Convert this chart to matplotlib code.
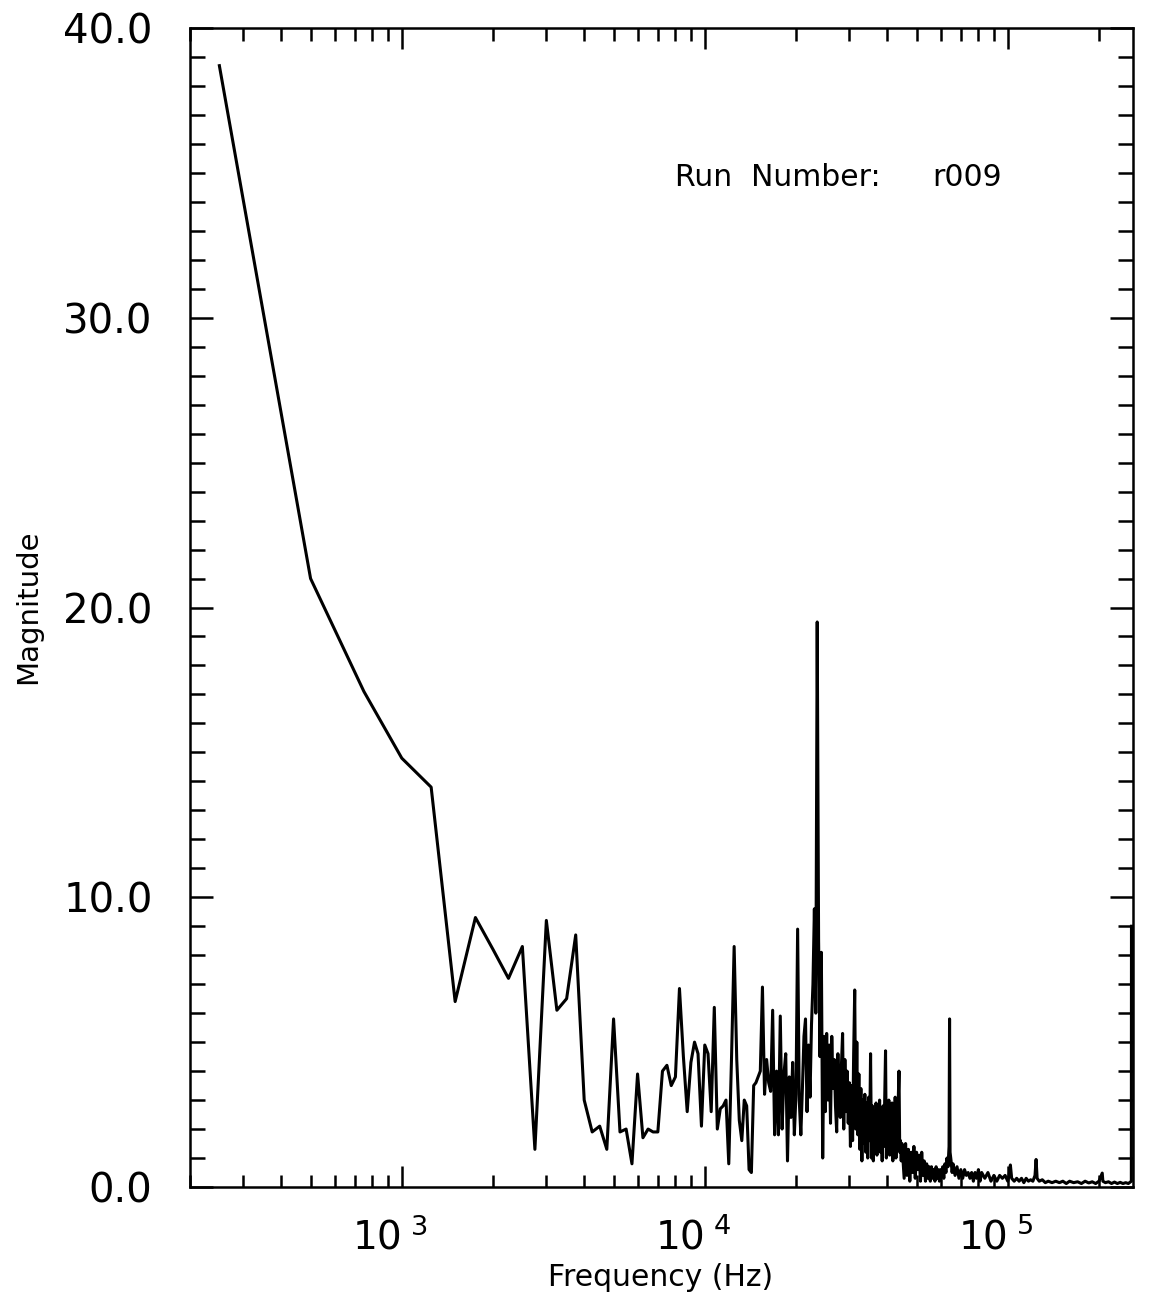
import numpy as np
import matplotlib.pyplot as plt
from matplotlib.transforms import ScaledTranslation
from matplotlib.ticker import MultipleLocator, LogLocator, NullFormatter, FormatStrFormatter

plt.rcParams['mathtext.fontset'] = 'dejavusans'

################### Spectrum values (Hz, magnitude)

# falling low-frequency part
freq_low = [250, 500, 750, 1000, 1250, 1500, 1750, 2000, 2250, 2500, 2750, 3000,
            3250, 3500, 3750, 4000, 4250, 4500, 4750, 5000, 5250, 5500, 5750, 6000,
            6250, 6500, 6750, 7000, 7250, 7500, 7750, 8000, 8250, 8500, 8750, 9000,
            9250, 9500, 9750, 10000]
mag_low = [38.7, 21.0, 17.1, 14.8, 13.8, 6.4, 9.3, 8.2, 7.2, 8.3, 1.3, 9.2,
           6.1, 6.5, 8.7, 3.0, 1.9, 2.1, 1.3, 5.8, 1.9, 2.0, 0.8, 3.9,
           1.7, 2.0, 1.9, 1.9, 4.0, 4.2, 3.5, 3.8, 6.85, 4.5, 2.6, 4.3,
           5.0, 4.6, 2.1, 4.9]

# 10 kHz - 28 kHz, noisy band with the 23.5 kHz line
freq_mid = [10250, 10500, 10750, 11000, 11250, 11500, 11750, 12000, 12250, 12500,
            12750, 13000, 13250, 13500, 13750, 14000, 14250, 14500, 14750, 15000,
            15250, 15500, 15750, 16000, 16250, 16500, 16750, 17000, 17250, 17500,
            17750, 18000, 18250, 18500, 18750, 19000, 19250, 19500, 19750, 20000,
            20250, 20500, 20750, 21000, 21250, 21500, 21750, 22000, 22250, 22500,
            22750, 23000, 23250, 23500, 23750, 24000, 24250, 24500, 24750, 25000,
            25250, 25500, 25750, 26000, 26250, 26500, 26750, 27000, 27250, 27500,
            27750]
mag_mid = [4.6, 2.6, 6.2, 2.0, 2.7, 2.8, 3.0, 0.8, 4.4, 8.3,
           4.4, 2.3, 1.6, 3.0, 2.8, 0.6, 0.5, 3.5, 3.6, 3.8,
           4.0, 6.9, 3.2, 4.4, 3.6, 3.3, 6.1, 1.8, 4.0, 1.8,
           5.9, 2.0, 3.9, 4.6, 0.9, 3.8, 2.4, 4.3, 1.8, 3.2,
           8.9, 3.0, 1.8, 3.4, 5.2, 5.8, 2.6, 4.9, 3.1, 5.6,
           7.0, 9.6, 6.0, 19.5, 8.5, 4.5, 8.1, 1.0, 5.2, 2.6,
           5.3, 3.0, 4.9, 2.2, 5.2, 3.4, 4.4, 2.8, 1.9, 4.6,
           2.9]

# 28 kHz - 45 kHz, dense block
freq_blk = [28000, 28250, 28500, 28750, 29000, 29250, 29500, 29750, 30000, 30250,
            30500, 30750, 31000, 31250, 31500, 31750, 32000, 32250, 32500, 32750,
            33000, 33250, 33500, 33750, 34000, 34250, 34500, 34750, 35000, 35250,
            35500, 35750, 36000, 36250, 36500, 36750, 37000, 37250, 37500, 37750,
            38000, 38250, 38500, 38750, 39000, 39250, 39500, 39750, 40000, 40250,
            40500, 40750, 41000, 41250, 41500, 41750, 42000, 42250, 42500, 42750,
            43000, 43250, 43500, 43750, 44000, 44250, 44500, 44750, 45000]
mag_blk = [2.4, 4.2, 5.3, 2.0, 4.4, 2.6, 4.0, 2.2, 3.6, 1.4,
           3.5, 1.6, 4.6, 6.8, 2.0, 5.0, 1.8, 3.9, 1.3, 3.4,
           0.9, 3.0, 1.5, 3.2, 1.2, 2.9, 1.0, 3.1, 1.6, 4.6,
           1.0, 2.8, 0.9, 2.6, 1.3, 2.9, 1.1, 2.7, 1.5, 3.0,
           1.2, 2.5, 0.9, 2.8, 1.4, 3.0, 4.7, 1.0, 2.6, 1.6,
           3.0, 1.1, 2.7, 1.4, 2.9, 0.9, 2.5, 1.3, 3.1, 1.0,
           2.4, 1.5, 3.0, 4.0, 1.2, 1.6, 0.9, 1.5, 1.1]

# 45 kHz - Nyquist, low floor with a few lines
freq_tail = [45500, 46000, 46500, 47000, 47500, 48000, 48500, 49000, 49500, 50000,
             50500, 51000, 51500, 52000, 52500, 53000, 53500, 54000, 54500, 55000,
             55500, 56000, 56500, 57000, 57500, 58000, 58500, 59000, 59500, 60000,
             60500, 61000, 61500, 62000, 62500, 63000, 63500, 64000, 64250, 64500,
             65000, 65500, 66000, 67000, 68000, 69000, 70000, 71000, 72000, 73000,
             74000, 75000, 76000, 77000, 78000, 79000, 80000, 81000, 82000, 84000,
             86000, 88000, 90000, 92000, 94000, 96000, 98000, 100000, 101000, 102000,
             103000, 105000, 107000, 109000, 111000, 113000, 115000, 117000, 119000, 121000,
             123000, 124000, 125000, 127000, 130000, 133000, 136000, 140000, 144000, 148000,
             152000, 156000, 160000, 165000, 170000, 175000, 180000, 185000, 190000, 195000,
             200000, 205000, 206000, 210000, 215000, 220000, 225000, 230000, 235000, 240000,
             245000, 250000, 255750, 256000]
mag_tail = [0.3, 1.5, 0.4, 1.3, 0.2, 1.2, 0.5, 1.4, 0.3, 1.2,
            0.6, 1.1, 0.2, 1.2, 0.4, 0.9, 0.2, 0.8, 0.3, 0.7,
            0.2, 0.7, 0.3, 0.6, 0.2, 0.7, 0.3, 0.6, 0.2, 0.6,
            0.4, 0.7, 0.3, 0.8, 0.5, 1.0, 0.7, 1.4, 5.8, 1.2,
            0.9, 0.5, 0.8, 0.4, 0.7, 0.3, 0.6, 0.3, 0.6, 0.4,
            0.5, 0.3, 0.5, 0.2, 0.5, 0.3, 0.6, 0.2, 0.5, 0.3,
            0.5, 0.2, 0.4, 0.2, 0.4, 0.3, 0.4, 0.2, 0.4, 0.76,
            0.3, 0.2, 0.3, 0.2, 0.3, 0.15, 0.3, 0.2, 0.25, 0.2,
            0.4, 0.95, 0.3, 0.2, 0.25, 0.15, 0.2, 0.15, 0.2, 0.15,
            0.2, 0.12, 0.2, 0.15, 0.18, 0.12, 0.2, 0.14, 0.18, 0.12,
            0.2, 0.48, 0.2, 0.15, 0.18, 0.12, 0.17, 0.12, 0.16, 0.12,
            0.15, 0.12, 0.2, 9.0]

freq = np.array(freq_low + freq_mid + freq_blk + freq_tail, dtype=float)
mag = np.array(mag_low + mag_mid + mag_blk + mag_tail)

################### Plot

fig = plt.figure(figsize=(11.6, 13.02), dpi=100)
ax = fig.add_axes([190 / 1160, 1 - 1187 / 1302, (1133 - 190) / 1160, (1187 - 28) / 1302])

ax.plot(freq, mag, color='black', lw=2.2)

ax.set_xscale('log')
ax.set_xlim(200, 259000)
ax.set_ylim(0, 40)

ax.yaxis.set_major_locator(MultipleLocator(10))
ax.yaxis.set_minor_locator(MultipleLocator(1))
ax.yaxis.set_major_formatter(FormatStrFormatter('%.1f'))

ax.set_xticks([1e3, 1e4, 1e5])
ax.set_xticklabels([r'$10^{\ 3}$', r'$10^{\ 4}$', r'$10^{\ 5}$'])
ax.xaxis.set_minor_locator(LogLocator(base=10, subs=range(2, 10), numticks=30))
ax.xaxis.set_minor_formatter(NullFormatter())

ax.tick_params(which='both', direction='in', top=True, right=True, width=1.8, color='black')
ax.tick_params(axis='y', which='major', length=16.5, labelsize=29, pad=27)
ax.tick_params(axis='y', which='minor', length=11)
ax.tick_params(axis='x', which='major', length=15, labelsize=28, pad=22)
ax.tick_params(axis='x', which='minor', length=9)

# the "10 ^n" labels sit a little left of their tick in the original
shift = ScaledTranslation(-0.12, 0, fig.dpi_scale_trans)
for lbl in ax.get_xticklabels():
    lbl.set_transform(lbl.get_transform() + shift)

for s in ax.spines.values():
    s.set_linewidth(1.8)

fig.text(661 / 1160, 1 - 1277 / 1302, 'Frequency (Hz)', ha='center', va='center', fontsize=21.5)
fig.text(28 / 1160, 1 - 607 / 1302, 'Magnitude', ha='center', va='center', rotation=90, fontsize=21)
fig.text(675 / 1160, 1 - 178 / 1302, 'Run  Number:', ha='left', va='center', fontsize=21.5)
fig.text(932 / 1160, 1 - 178 / 1302, 'r009', ha='left', va='center', fontsize=21.5)

fig.savefig('out.png', dpi=100)
